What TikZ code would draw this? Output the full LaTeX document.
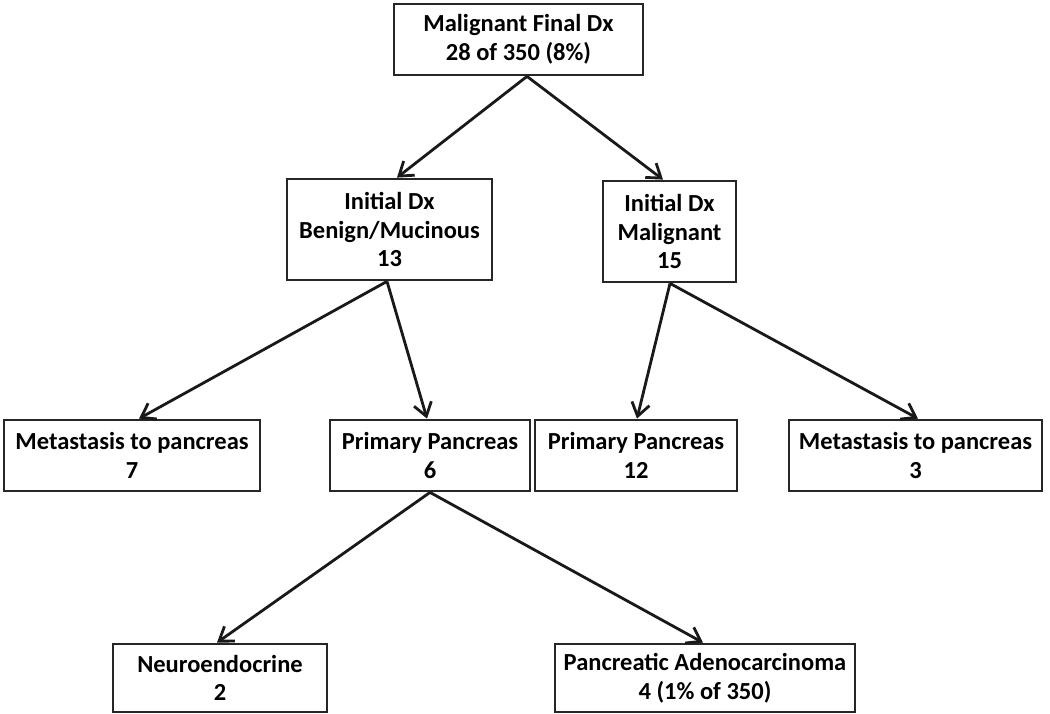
\documentclass[tikz,border=0pt]{standalone}
\usepackage{fontspec}
\setmainfont{Carlito}
\usetikzlibrary{arrows.meta}
\begin{document}
\begin{tikzpicture}[x=1pt,y=-1pt,
  box/.style={draw=black!85,line width=2.8pt,rectangle,inner sep=0pt,align=center,
    font=\fontsize{24.5}{28.5}\selectfont\bfseries,text=black},
  conn/.style={line width=2.8pt,black!90,-{Straight Barb[length=13pt,width=18pt,line width=2.8pt]}}]
\useasboundingbox (0,0) rectangle (1050,714);
\node[box,minimum width=249pt,minimum height=71pt] (b1) at (518.5,39.5) {Malignant Final Dx\\28 of 350 (8\%)};
\node[box,minimum width=205pt,minimum height=101pt] (b2) at (389.5,229.5) {Initial Dx\\Benign/Mucinous\\13};
\node[box,minimum width=133pt,minimum height=101pt] (b3) at (669.5,231.5) {Initial Dx\\Malignant\\15};
\node[box,minimum width=256pt,minimum height=71pt] (b4) at (132,455.5) {Metastasis to pancreas\\7};
\node[box,minimum width=200pt,minimum height=71pt] (b5) at (430,455.5) {Primary Pancreas\\6};
\node[box,minimum width=202pt,minimum height=71pt] (b6) at (636,455.5) {Primary Pancreas\\12};
\node[box,minimum width=253pt,minimum height=71pt] (b7) at (915.5,455.5) {Metastasis to pancreas\\3};
\node[box,minimum width=214pt,minimum height=68pt] (b8) at (220,678) {Neuroendocrine\\2};
\node[box,minimum width=300pt,minimum height=68pt] (b9) at (705,678) {Pancreatic Adenocarcinoma\\4 (1\% of 350)};
\coordinate (s1) at ([xshift=8.5pt]b1.south);
\coordinate (s2) at ([xshift=-2.5pt]b2.south);
\coordinate (s3) at ([xshift=0.5pt]b3.south);
\coordinate (s5) at (b5.south);
\draw[conn] (s1) -- ([xshift=7.5pt]b2.north);
\draw[conn] (s1) -- ([xshift=-6.5pt]b3.north);
\draw[conn] (s2) -- ([xshift=7pt]b4.north);
\draw[conn] (s2) -- ([xshift=-3pt]b5.north);
\draw[conn] (s3) -- ([xshift=1pt]b6.north);
\draw[conn] (s3) -- ([xshift=2.5pt]b7.north);
\draw[conn] (s5) -- ([xshift=-3pt]b8.north);
\draw[conn] (s5) -- ([xshift=-2pt]b9.north);
\end{tikzpicture}
\end{document}
